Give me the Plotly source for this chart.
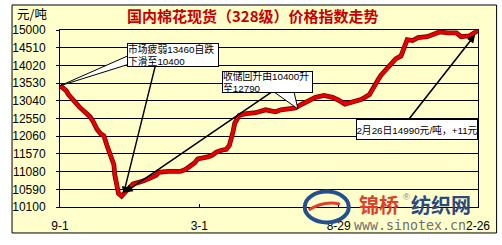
import plotly.graph_objects as go

# ---------------- data ----------------
DATES = [
    "2008-09-01", "2008-09-05", "2008-09-09", "2008-09-12", "2008-09-15", "2008-09-20",
    "2008-09-26", "2008-10-03", "2008-10-10", "2008-10-14", "2008-10-19", "2008-10-24",
    "2008-10-28", "2008-11-01", "2008-11-06", "2008-11-10", "2008-11-11", "2008-11-14",
    "2008-11-16", "2008-11-20", "2008-11-24", "2008-11-26", "2008-11-29", "2008-12-05",
    "2008-12-12", "2008-12-18", "2008-12-24", "2008-12-31", "2009-01-04", "2009-01-07",
    "2009-01-14", "2009-01-20", "2009-01-29", "2009-02-04", "2009-02-11", "2009-02-17",
    "2009-02-23", "2009-02-27", "2009-03-06", "2009-03-12", "2009-03-18", "2009-03-23",
    "2009-03-30", "2009-04-05", "2009-04-09", "2009-04-12", "2009-04-14", "2009-04-16",
    "2009-04-22", "2009-05-01", "2009-05-13", "2009-05-26", "2009-06-08", "2009-06-15",
    "2009-06-28", "2009-07-04", "2009-07-10", "2009-07-17", "2009-07-30", "2009-08-10",
    "2009-08-21", "2009-08-29", "2009-09-06", "2009-09-15", "2009-09-28", "2009-10-08",
    "2009-10-14", "2009-10-19", "2009-10-23", "2009-10-29", "2009-11-05", "2009-11-11",
    "2009-11-18", "2009-11-20", "2009-11-26", "2009-12-03", "2009-12-10", "2009-12-22",
    "2010-01-07", "2010-01-18", "2010-01-29", "2010-02-04", "2010-02-15", "2010-02-23",
    "2010-02-26",
]
PRICES = [
    13460, 13400, 13320, 13215, 13136, 13030,
    12870, 12736, 12600, 12470, 12257, 12124,
    12070, 11804, 11485, 11272, 11005, 10660,
    10473, 10400, 10473, 10526, 10606, 10740,
    10766, 10820, 10872, 10925, 10980, 11058,
    11085, 11085, 11085, 11085, 11138, 11218,
    11325, 11432, 11458, 11485, 11538, 11618,
    11671, 11698, 11804, 12017, 12204, 12420,
    12640, 12683, 12710, 12790, 12736, 12790,
    12816, 12843, 12923, 13003, 13136, 13190,
    13136, 13056, 12950, 13003, 13083, 13216,
    13402, 13615, 13748, 13881, 14068, 14201,
    14281, 14414, 14734, 14707, 14787, 14814,
    14947, 14920, 14920, 14814, 14840, 14947,
    14990,
]
Y_TICKS = [10100, 10590, 11080, 11570, 12060, 12550, 13040, 13530, 14020, 14510, 15000]
Y_TICK_TEXT = ["10100", "10590", "11080", "11570", "12060", "12550",
               "13040", "13530", "14020", "14510", "15000"]
X_TICK_DATES = ["2008-09-01", "2009-03-01", "2009-08-29", "2010-02-26"]
X_TICK_TEXT = ["9-1", "3-1", "8-29", "2-26"]

TITLE = "国内棉花现货（328级）价格指数走势"
UNIT = "元/吨"
NOTE1 = "市场疲弱13460自跌<br>下滑至10400"
NOTE2 = "收储回升由10400升<br>至12790"
NOTE3 = "2月26日14990元/吨，+11元"

# ---------------- layout helpers (pixel -> paper) ----------------
W, H = 502, 245
L, R, T, B = 52, 23, 30, 31
PW, PH = W - L - R, H - T - B


def fx(px):
    return (px - L) / PW


def fy(py):
    return (H - B - py) / PH


FONT = "Liberation Sans, Noto Sans CJK SC, sans-serif"
CJK = "Noto Sans CJK SC, sans-serif"
BG = "#FFFFCC"

fig = go.Figure()
fig.add_trace(go.Scatter(x=DATES, y=PRICES, mode="lines",
                         line=dict(color="#7A0000", width=4.8),
                         hoverinfo="skip", cliponaxis=False))
fig.add_trace(go.Scatter(x=DATES, y=PRICES, mode="lines",
                         line=dict(color="#E80000", width=3.2),
                         cliponaxis=False))

shapes = [
    # outer frame
    dict(type="rect", xref="paper", yref="paper",
         x0=fx(3), x1=fx(498), y0=fy(241), y1=fy(4),
         line=dict(color="black", width=1), fillcolor=BG, layer="below"),
    # callout wedge 1
    dict(type="path", xref="paper", yref="paper",
         path=f"M {fx(121)},{fy(57)} L {fx(52)},{fy(88)} L {fx(121)},{fy(66)} Z",
         line=dict(color="black", width=1), fillcolor="white", layer="above"),
    # callout wedge 2
    dict(type="path", xref="paper", yref="paper",
         path=f"M {fx(270)},{fy(94)} L {fx(295)},{fy(112)} L {fx(291)},{fy(94)} Z",
         line=dict(color="black", width=1), fillcolor="white", layer="above"),
    # watermark logo ring
    dict(type="circle", xref="paper", yref="paper",
         x0=fx(302), x1=fx(347), y0=fy(230), y1=fy(198),
         line=dict(color="#24508F", width=4), fillcolor="rgba(0,0,0,0)", layer="above"),
    dict(type="path", xref="paper", yref="paper",
         path=f"M {fx(306)},{fy(217)} Q {fx(322)},{fy(207)} {fx(338)},{fy(211)}",
         line=dict(color="#E0402A", width=3), layer="above"),
]

ann = [
    dict(text=f"<b>{TITLE}</b>", x=fx(249), y=fy(15), xref="paper", yref="paper",
         showarrow=False, font=dict(family=CJK, size=15, color="#C80000"),
         xanchor="center", yanchor="middle"),
    dict(text=UNIT, x=fx(6), y=fy(13), xref="paper", yref="paper",
         showarrow=False, font=dict(family=CJK, size=12.5, color="black"),
         xanchor="left", yanchor="middle"),
    # arrows
    dict(text="", x=fx(117), y=fy(200), xref="paper", yref="paper", showarrow=True,
         ax=33, ay=-133, arrowhead=2, arrowsize=1, arrowwidth=1.4, arrowcolor="black",
         standoff=0),
    dict(text="", x=fx(118), y=fy(199), xref="paper", yref="paper", showarrow=True,
         ax=152, ay=-104, arrowhead=2, arrowsize=1, arrowwidth=1.6, arrowcolor="black",
         standoff=0),
    dict(text="", x=fx(476), y=fy(35), xref="paper", yref="paper", showarrow=True,
         ax=-69, ay=88, arrowhead=2, arrowsize=1, arrowwidth=1.6, arrowcolor="black",
         standoff=0),
    # note boxes
    dict(text=NOTE1, x=fx(120), y=fy(43), xref="paper", yref="paper", showarrow=False,
         xanchor="left", yanchor="top", align="left", width=90, height=22,
         bgcolor="white", bordercolor="black", borderwidth=1, borderpad=0,
         font=dict(family=FONT, size=9.8, color="black")),
    dict(text=NOTE2, x=fx(217), y=fy(73), xref="paper", yref="paper", showarrow=False,
         xanchor="left", yanchor="top", align="left", width=89, height=20,
         bgcolor="white", bordercolor="black", borderwidth=1, borderpad=0,
         font=dict(family=FONT, size=9.8, color="black")),
    dict(text=NOTE3, x=fx(354), y=fy(123), xref="paper", yref="paper", showarrow=False,
         xanchor="left", yanchor="top", align="center", width=120, height=19,
         bgcolor="white", bordercolor="black", borderwidth=1, borderpad=0,
         font=dict(family=FONT, size=9.8, color="black")),
    # watermark text
    dict(text="<b>锦桥</b>", x=fx(355), y=fy(211), xref="paper", yref="paper",
         showarrow=False, xanchor="left", yanchor="middle",
         font=dict(family=CJK, size=20, color="#E0402A")),
    dict(text="®", x=fx(400), y=fy(204), xref="paper", yref="paper",
         showarrow=False, xanchor="left", yanchor="middle",
         font=dict(family=FONT, size=9, color="#888888")),
    dict(text="<b>纺织网</b>", x=fx(409), y=fy(211), xref="paper", yref="paper",
         showarrow=False, xanchor="left", yanchor="middle",
         font=dict(family=CJK, size=20, color="#2A4A80")),
    dict(text="www.sinotex.cn", x=fx(350), y=fy(233), xref="paper", yref="paper",
         showarrow=False, xanchor="left", yanchor="middle",
         font=dict(family="DejaVu Sans Mono, monospace", size=13.3, color="#6E6E6E")),
]

fig.update_layout(
    width=W, height=H,
    margin=dict(l=L, r=R, t=T, b=B, pad=0),
    paper_bgcolor="white", plot_bgcolor="rgba(0,0,0,0)",
    showlegend=False,
    shapes=shapes, annotations=ann,
    xaxis=dict(type="date", range=[DATES[0], DATES[-1]],
               tickmode="array", tickvals=X_TICK_DATES, ticktext=X_TICK_TEXT,
               ticks="inside", ticklen=3, tickcolor="black",
               showgrid=False, zeroline=False,
               showline=True, mirror=True, linecolor="black", linewidth=1,
               ticklabelstandoff=8,
               tickfont=dict(family=FONT, size=12, color="black")),
    yaxis=dict(range=[Y_TICKS[0], Y_TICKS[-1]], tickmode="array",
               tickvals=Y_TICKS, ticktext=Y_TICK_TEXT,
               ticks="outside", ticklen=3, tickcolor="black",
               showgrid=True, gridcolor="black", gridwidth=1, zeroline=False,
               showline=True, mirror=True, linecolor="black", linewidth=1,
               ticklabelstandoff=8,
               tickfont=dict(family=FONT, size=12, color="black")),
)

fig.write_html("out.html")
